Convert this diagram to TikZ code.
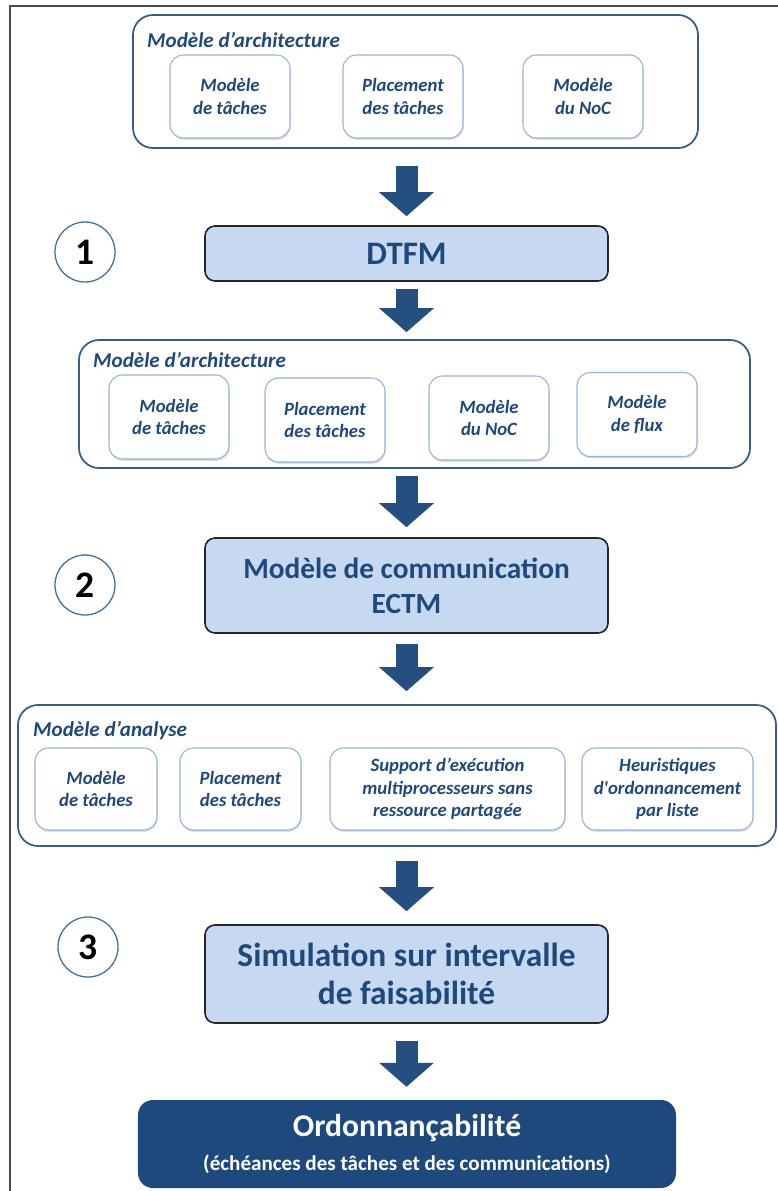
\documentclass[tikz,border=0pt]{standalone}
\usepackage{fontspec}
\setmainfont{Carlito}
\usetikzlibrary{arrows.meta,shadows}
\definecolor{navy}{HTML}{1F497D}
\definecolor{arrownavy}{HTML}{24507F}
\definecolor{paleblue}{HTML}{C6D9F1}
\definecolor{edgeblue}{HTML}{95B3D7}
\definecolor{frameblue}{HTML}{385D8A}
\definecolor{ringblue}{HTML}{41719C}
\begin{document}
\begin{tikzpicture}[x=0.03cm, y=-0.03cm,
  container/.style={draw=frameblue, line width=1.5pt, rounded corners=0.6cm},
  heading/.style={anchor=west, inner sep=0pt, text=navy, font=\fontsize{18}{21}\selectfont\bfseries\itshape},
  part/.style={draw=edgeblue, line width=0.9pt, fill=white, rounded corners=0.4cm, align=center, inner sep=1pt,
    text=navy, font=\fontsize{16}{19}\selectfont\bfseries\itshape,
    drop shadow={opacity=0.25, shadow xshift=0.6pt, shadow yshift=-1.6pt}},
  stepbox/.style={draw=black!85, line width=1.4pt, fill=paleblue, rounded corners=0.3cm, align=center,
    minimum width=12.09cm, text=navy, font=\fontsize{25}{30}\selectfont\bfseries},
  phase/.style={circle, draw=ringblue, line width=1.1pt, fill=white, minimum size=1.8cm, inner sep=0pt,
    font=\fontsize{32}{34}\selectfont\bfseries},
  blockarrow/.style={draw=arrownavy, line width=0.66cm, -{Triangle[width=1.65cm, length=0.72cm, line width=0pt]}}]
  \useasboundingbox (0,0) rectangle (778,1191);
  \draw[gray!60!black, line width=1pt] (10,1191) -- (10,6) -- (778,6);

  % architecture model (input)
  \node[container, minimum width=16.95cm, minimum height=3.99cm] (archA) at (415.5,81.5) {};
  \node[heading] (archAtitle) at (147,40) {Modèle d’architecture};
  \node[part, minimum width=3.6cm, minimum height=2.49cm] (archAtasks) at (230,96.5) {Modèle\\de tâches};
  \node[part, minimum width=3.6cm, minimum height=2.49cm] (archAmap) at (403,96.5) {Placement\\des tâches};
  \node[part, minimum width=3.6cm, minimum height=2.49cm] (archAnoc) at (583,96.5) {Modèle\\du NoC};

  % step 1
  \node[phase] (one) at (85,252) {1};
  \node[stepbox, minimum height=1.65cm, font=\fontsize{28}{30}\selectfont\bfseries] (dtfm) at (406.5,253.5) {DTFM};

  % architecture model (enriched)
  \node[container, minimum width=20.13cm, minimum height=3.84cm] (archB) at (414.5,404) {};
  \node[heading] (archBtitle) at (93,360) {Modèle d’architecture};
  \node[part, minimum width=3.6cm, minimum height=2.52cm] (archBtasks) at (169,417) {Modèle\\de tâches};
  \node[part, minimum width=3.6cm, minimum height=2.52cm] (archBmap) at (325,420) {Placement\\des tâches};
  \node[part, minimum width=3.6cm, minimum height=2.52cm] (archBnoc) at (489,418) {Modèle\\du NoC};
  \node[part, minimum width=3.6cm, minimum height=2.52cm] (archBflow) at (637,414.5) {Modèle\\de flux};

  % step 2
  \node[phase] (two) at (85,585) {2};
  \node[stepbox, minimum height=2.85cm] (ectm) at (406.5,585.5) {Modèle de communication\\ECTM};

  % analysis model
  \node[container, minimum width=22.74cm, minimum height=4.23cm] (analysis) at (397,775.5) {};
  \node[heading] (analysistitle) at (33,731) {Modèle d’analyse};
  \node[part, minimum width=3.66cm, minimum height=2.46cm] (antasks) at (96,789) {Modèle\\de tâches};
  \node[part, minimum width=3.63cm, minimum height=2.46cm] (anmap) at (240.5,789) {Placement\\des tâches};
  \node[part, minimum width=7.05cm, minimum height=2.46cm] (anexec) at (447.5,789) {Support d’exécution\\multiprocesseurs sans\\ressource partagée};
  \node[part, minimum width=5.13cm, minimum height=2.46cm] (anheur) at (667.5,789) {Heuristiques\\d\textquotesingle ordonnancement\\par liste};

  % step 3
  \node[phase] (three) at (88,947) {3};
  \node[stepbox, minimum height=2.94cm, font=\fontsize{28.5}{32}\selectfont\bfseries] (simu) at (406.5,974) {Simulation sur intervalle\\de faisabilité};

  % result
  \node[fill=navy, rounded corners=0.45cm, minimum width=16.14cm, minimum height=2.64cm, align=center,
    text=white, font=\fontsize{27}{29}\selectfont\bfseries] (ordo) at (407,1144)
    {Ordonnançabilité\\{\fontsize{18}{20}\selectfont (échéances des tâches et des communications)}};

  % flow
  \draw[blockarrow, shorten <=0.51cm, shorten >=0.27cm] (archA.south -| dtfm.north) -- (dtfm.north);
  \draw[blockarrow, shorten <=0.21cm, shorten >=0.21cm] (dtfm.south) -- (archB.north -| dtfm.south);
  \draw[blockarrow, shorten <=0.21cm, shorten >=0.30cm] (archB.south -| ectm.north) -- (ectm.north);
  \draw[blockarrow, shorten <=0.30cm, shorten >=0.39cm] (ectm.south) -- (analysis.north -| ectm.south);
  \draw[blockarrow, shorten <=0.42cm, shorten >=0.39cm] (analysis.south -| simu.north) -- (simu.north);
  \draw[blockarrow, shorten <=0.51cm, shorten >=0.39cm] (simu.south) -- (ordo.north -| simu.south);
\end{tikzpicture}
\end{document}
